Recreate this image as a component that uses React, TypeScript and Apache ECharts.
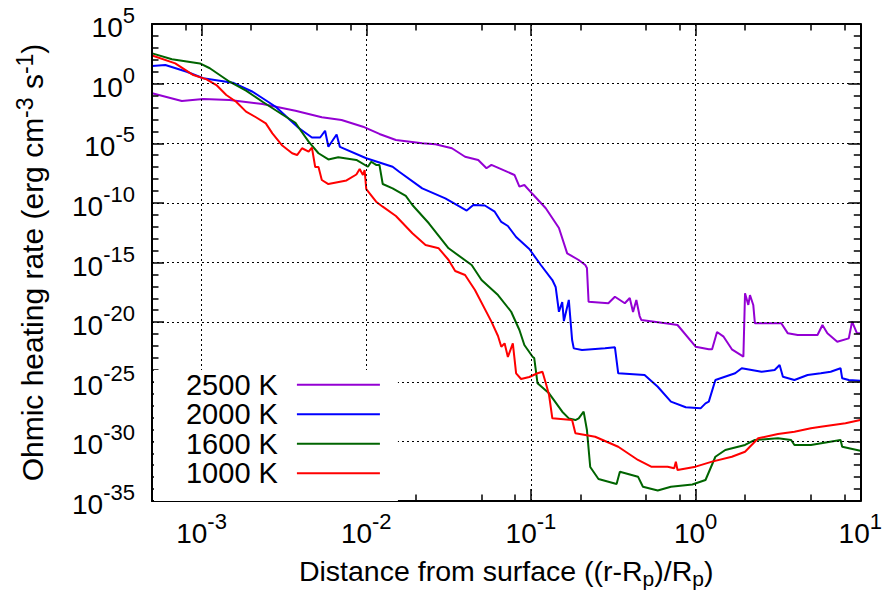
import React, { useEffect, useRef } from 'react';
import * as echarts from 'echarts';

const FONT = '"Liberation Sans", Arial, Helvetica, sans-serif';

// Series names and colours
const seriesNames = ['2500 K', '2000 K', '1600 K', '1000 K'];
const seriesColors = ['#9400d3', '#0000ff', '#006400', '#ff0000'];

// Values, stored as log10(distance) and log10(heating rate)
const logX2500 = [-3.30,-3.12,-2.99,-2.83,-2.63,-2.43,-2.27,-2.15,-2.02,-1.92,-1.82,-1.66,-1.58,-1.48,-1.40,-1.32,-1.27,-1.24,-1.16,-1.10,-1.07,-1.04,-0.99,-0.91,-0.83,-0.78,-0.71,-0.67,-0.66,-0.65,-0.53,-0.49,-0.43,-0.40,-0.38,-0.36,-0.34,-0.33,-0.15,-0.11,0.00,0.08,0.10,0.13,0.17,0.22,0.29,0.30,0.32,0.33,0.35,0.36,0.44,0.52,0.56,0.62,0.74,0.77,0.80,0.86,0.93,0.95,0.98,1.00];
const logY2500 = [-0.81,-1.46,-1.29,-1.37,-1.71,-2.27,-2.82,-3.05,-3.61,-4.22,-4.73,-5.00,-5.09,-5.42,-6.13,-6.40,-7.10,-6.82,-7.30,-7.66,-8.64,-8.50,-9.26,-10.45,-12.11,-14.23,-14.79,-15.21,-15.46,-18.29,-18.42,-17.87,-18.42,-17.98,-19.15,-18.14,-19.49,-19.82,-20.16,-20.24,-22.06,-22.28,-22.28,-20.83,-21.22,-22.28,-22.90,-17.58,-18.56,-17.73,-18.56,-20.10,-20.10,-20.10,-20.94,-21.08,-21.08,-20.24,-20.94,-21.64,-21.36,-19.96,-20.94,-20.94];

const logX2000 = [-3.30,-3.22,-3.09,-2.99,-2.81,-2.69,-2.55,-2.41,-2.33,-2.28,-2.25,-2.23,-2.18,-2.16,-2.00,-1.84,-1.80,-1.66,-1.52,-1.44,-1.39,-1.35,-1.28,-1.22,-1.18,-1.14,-1.09,-1.01,-0.94,-0.87,-0.85,-0.83,-0.81,-0.80,-0.77,-0.75,-0.74,-0.69,-0.55,-0.49,-0.47,-0.31,-0.23,-0.15,-0.06,0.03,0.06,0.08,0.12,0.24,0.28,0.40,0.48,0.51,0.53,0.60,0.68,0.76,0.82,0.88,0.89,0.93,1.00];
const logY2000 = [1.48,1.56,1.00,0.45,0.08,-0.68,-1.94,-3.72,-4.52,-4.52,-3.95,-5.29,-4.27,-5.31,-6.26,-6.97,-7.39,-8.78,-9.62,-10.26,-10.64,-10.18,-10.22,-10.74,-11.60,-11.94,-12.86,-13.87,-15.21,-16.47,-17.05,-19.13,-18.31,-19.91,-18.14,-21.50,-22.20,-22.34,-22.20,-22.11,-24.29,-24.43,-25.42,-26.67,-27.14,-27.23,-26.81,-26.67,-24.85,-24.29,-23.87,-24.16,-24.02,-23.60,-24.58,-24.85,-24.43,-24.29,-24.16,-23.87,-24.71,-24.85,-24.91];

const logX1600 = [-3.30,-3.18,-3.01,-2.95,-2.83,-2.73,-2.63,-2.51,-2.43,-2.40,-2.35,-2.29,-2.23,-2.17,-2.06,-1.99,-1.97,-1.94,-1.92,-1.90,-1.84,-1.76,-1.72,-1.62,-1.50,-1.36,-1.30,-1.20,-1.12,-1.07,-1.04,-0.99,-0.98,-0.96,-0.89,-0.81,-0.77,-0.73,-0.71,-0.68,-0.66,-0.64,-0.59,-0.48,-0.46,-0.35,-0.32,-0.23,-0.15,-0.02,0.06,0.12,0.18,0.30,0.36,0.50,0.58,0.60,0.70,0.88,0.89,1.00];
const logY1600 = [2.54,2.04,1.69,1.29,0.16,-0.59,-1.52,-2.59,-3.28,-3.89,-4.87,-5.84,-6.36,-6.18,-6.40,-6.97,-6.55,-6.82,-6.82,-8.42,-8.78,-9.42,-10.18,-11.71,-13.81,-15.21,-16.47,-17.73,-19.13,-20.66,-21.92,-22.90,-23.01,-25.13,-25.97,-27.51,-28.07,-28.21,-28.07,-27.51,-29.05,-32.15,-33.16,-33.57,-32.54,-32.96,-33.80,-34.12,-33.80,-33.62,-33.24,-31.29,-30.72,-30.30,-29.88,-29.74,-29.88,-30.30,-30.30,-29.88,-30.45,-30.78];

const logX1000 = [-3.30,-3.16,-3.05,-2.97,-2.91,-2.85,-2.79,-2.73,-2.67,-2.61,-2.57,-2.51,-2.45,-2.42,-2.39,-2.35,-2.33,-2.31,-2.29,-2.27,-2.23,-2.12,-2.06,-2.04,-2.02,-2.01,-2.00,-1.94,-1.90,-1.82,-1.72,-1.64,-1.56,-1.50,-1.46,-1.40,-1.34,-1.24,-1.20,-1.18,-1.16,-1.14,-1.11,-1.09,-1.06,-1.01,-0.96,-0.93,-0.91,-0.89,-0.87,-0.75,-0.73,-0.61,-0.47,-0.35,-0.27,-0.17,-0.13,-0.12,-0.11,0.00,0.10,0.22,0.30,0.38,0.50,0.60,0.70,0.76,0.91,1.00];
const logY1000 = [2.36,1.70,0.72,0.36,-0.12,-0.95,-1.52,-2.35,-2.82,-3.33,-4.17,-5.19,-5.84,-5.99,-5.42,-5.71,-5.36,-6.99,-6.99,-8.08,-8.42,-8.12,-7.62,-7.16,-7.66,-7.24,-8.84,-9.90,-10.32,-11.10,-12.55,-13.53,-13.81,-14.79,-15.71,-16.05,-17.31,-19.96,-21.16,-22.06,-21.78,-22.92,-21.78,-24.29,-24.77,-24.60,-24.29,-24.16,-25.10,-26.11,-28.07,-28.21,-29.32,-29.61,-30.45,-31.56,-32.12,-32.12,-32.26,-31.70,-32.40,-32.12,-31.70,-31.29,-30.87,-29.74,-29.38,-29.19,-28.90,-28.77,-28.48,-28.21];

// Axis ranges and tick positions
const X_MIN = 5e-4;
const X_MAX = 10;
const Y_MIN = 1e-35;
const Y_MAX = 1e5;
const xMajorTicks = [1e-3, 1e-2, 1e-1, 1, 10];
const xMinorTicks = [8e-4, 2e-3, 5e-3, 8e-3, 2e-2, 5e-2, 8e-2, 0.2, 0.5, 0.8, 2, 5, 8];
const yMajorTicks = [1e-35, 1e-30, 1e-25, 1e-20, 1e-15, 1e-10, 1e-5, 1, 1e5];
const yMinorTicks = [1e-34, 1e-33, 1e-32, 1e-31, 1e-29, 1e-28, 1e-27, 1e-26, 1e-24, 1e-23, 1e-22, 1e-21, 1e-19, 1e-18, 1e-17, 1e-16, 1e-14, 1e-13, 1e-12, 1e-11, 1e-9, 1e-8, 1e-7, 1e-6, 1e-4, 1e-3, 1e-2, 1e-1, 1e1, 1e2, 1e3, 1e4];

const xTitle = 'Distance from surface ((r-R{sub|p})/R{sub|p})';
const yTitle = 'Ohmic heating rate (erg cm{sup|-3} s{sup|-1})';

const curves = [
  { xs: logX2500, ys: logY2500 },
  { xs: logX2000, ys: logY2000 },
  { xs: logX1600, ys: logY1600 },
  { xs: logX1000, ys: logY1000 },
];

const powLabel = (v: number) => `{b|10}{s|${Math.round(Math.log10(v))}}`;

const tickRich = {
  b: { fontSize: 28, fontFamily: FONT, color: '#000', padding: [7, 0, 0, 0], verticalAlign: 'middle' },
  s: { fontSize: 22, fontFamily: FONT, color: '#000', padding: [0, 0, 17, 0], verticalAlign: 'middle' },
};

const axisLineStyle = { color: '#000', width: 2 };
const tickLine = { color: '#000', width: 1.5 };
const gridLine = { show: true, lineStyle: { color: '#000', width: 1, type: [2, 3] } };

function makeAxis(kind: 'x' | 'y', position: string, ticks: number[], len: number, withLine: boolean, extra: any = {}) {
  return {
    type: 'log',
    logBase: 10,
    position,
    min: kind === 'x' ? X_MIN : Y_MIN,
    max: kind === 'x' ? X_MAX : Y_MAX,
    axisLine: { show: withLine, onZero: false, lineStyle: axisLineStyle },
    axisTick: { show: true, inside: true, length: len, customValues: ticks, lineStyle: tickLine },
    axisLabel: { show: false },
    splitLine: { show: false },
    minorTick: { show: false },
    minorSplitLine: { show: false },
    z: 3,
    ...extra,
  };
}

export default function App() {
  const ref = useRef<HTMLDivElement>(null);
  useEffect(() => {
    document.body.style.margin = '0';
    const chart = echarts.init(ref.current!, undefined, { renderer: 'svg' });
    const option: any = {
      animation: false,
      backgroundColor: '#fff',
      textStyle: { fontFamily: FONT, color: '#000' },
      grid: { left: 152, right: 22, top: 24, bottom: 93, containLabel: false },
      legend: {
        data: seriesNames,
        orient: 'vertical',
        left: 154,
        top: 370,
        align: 'right',
        icon: 'rect',
        itemWidth: 83,
        itemHeight: 2,
        itemGap: 0,
        padding: [0, 18, 13, 32],
        backgroundColor: '#fff',
        selectedMode: false,
        textStyle: { fontSize: 29, fontFamily: FONT, color: '#000', lineHeight: 29.5, padding: [0, 14, 0, 0] },
        z: 10,
      },
      xAxis: [
        makeAxis('x', 'bottom', xMajorTicks, 12, true, {
          axisLabel: { show: true, customValues: xMajorTicks, formatter: powLabel, margin: 9, rich: tickRich },
          splitLine: gridLine,
          name: xTitle,
          nameLocation: 'middle',
          nameGap: 51,
          nameTextStyle: {
            fontSize: 28.5, fontFamily: FONT, color: '#000',
            rich: { sub: { fontSize: 21, fontFamily: FONT, color: '#000', padding: [16, 0, 0, 0] } },
          },
        }),
        makeAxis('x', 'bottom', xMinorTicks, 6.5, false),
        makeAxis('x', 'top', xMajorTicks, 12, true),
        makeAxis('x', 'top', xMinorTicks, 6.5, false),
      ],
      yAxis: [
        makeAxis('y', 'left', yMajorTicks, 12, true, {
          axisLabel: { show: true, customValues: yMajorTicks, formatter: powLabel, margin: 17, rich: tickRich },
          splitLine: gridLine,
          name: yTitle,
          nameLocation: 'middle',
          nameRotate: 90,
          nameGap: 100,
          nameTextStyle: {
            fontSize: 30, fontFamily: FONT, color: '#000',
            rich: { sup: { fontSize: 23, fontFamily: FONT, color: '#000', padding: [0, 0, 16, 0] } },
          },
        }),
        makeAxis('y', 'left', yMinorTicks, 6.5, false),
        makeAxis('y', 'right', yMajorTicks, 12, true),
        makeAxis('y', 'right', yMinorTicks, 6.5, false),
      ],
      series: curves.map((c, k) => ({
        type: 'line',
        name: seriesNames[k],
        xAxisIndex: 0,
        yAxisIndex: 0,
        data: c.xs.map((x, i) => [10 ** x, 10 ** c.ys[i]]),
        symbol: 'none',
        showSymbol: false,
        color: seriesColors[k],
        itemStyle: { color: seriesColors[k] },
        lineStyle: { color: seriesColors[k], width: 2 },
        z: 2 + k * 0.1,
      })),
    };
    chart.setOption(option);
    return () => chart.dispose();
  }, []);
  return <div ref={ref} style={{ width: 885, height: 594 }} />;
}
